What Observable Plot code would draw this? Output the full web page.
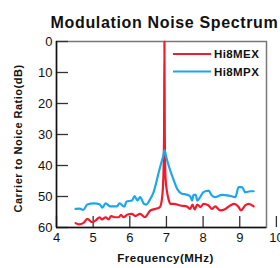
<!DOCTYPE html>
<html>
<head>
<meta charset="utf-8">
<script src="https://cdn.jsdelivr.net/npm/d3@7"></script>
<script src="https://cdn.jsdelivr.net/npm/@observablehq/plot@0.6"></script>
<style>
  html, body { margin: 0; padding: 0; background: #fff; }
  svg { font-family: "Liberation Sans", Arial, sans-serif; }
</style>
</head>
<body>
<div id="chart"></div>
<script>
const title = "Modulation Noise Spectrum";
const xLabel = "Frequency(MHz)";
const yLabel = "Carrier to Noice Ratio(dB)";
const seriesNames = ["Hi8MEX", "Hi8MPX"];
const seriesColors = ["#ee1c2e", "#1ea7e8"];
const xTicks = [4, 5, 6, 7, 8, 9, 10];
const yTicks = [0, 10, 20, 30, 40, 50, 60];
const xDomain = [4, 9.73];
const yDomain = [0, 60];

const mexFreq = [4.52, 4.61, 4.73, 4.84, 4.97, 5.06, 5.18, 5.24, 5.34, 5.42, 5.49, 5.61, 5.70, 5.76, 5.83, 5.94, 6.06, 6.15, 6.28, 6.41, 6.56, 6.70, 6.82, 6.88, 6.915, 6.935, 6.945, 6.955, 6.975, 7.01, 7.06, 7.11, 7.20, 7.38, 7.55, 7.65, 7.71, 7.77, 7.84, 7.93, 8.01, 8.15, 8.24, 8.33, 8.47, 8.61, 8.74, 8.85, 8.97, 9.03, 9.15, 9.24, 9.38];
const mexCN   = [58.6, 59.0, 58.6, 57.2, 58.3, 57.8, 56.7, 57.4, 56.7, 57.4, 56.3, 56.7, 56.7, 55.9, 56.7, 55.8, 55.6, 56.3, 55.6, 56.7, 54.5, 54.0, 53.4, 50.5, 44, 30, 0, 30, 44, 48, 51, 52.4, 52.4, 52.9, 53.2, 54.0, 52.6, 54.2, 52.6, 53.4, 52.4, 52.9, 54.0, 53.2, 54.5, 54.0, 52.9, 52.4, 53.4, 54.5, 52.9, 52.4, 53.2];

const mpxFreq = [4.52, 4.63, 4.73, 4.84, 5.02, 5.18, 5.25, 5.34, 5.47, 5.65, 5.72, 5.85, 5.91, 6.06, 6.13, 6.21, 6.28, 6.39, 6.45, 6.55, 6.65, 6.79, 6.85, 6.92, 6.945, 7.00, 7.06, 7.20, 7.29, 7.42, 7.55, 7.65, 7.70, 7.74, 7.80, 7.84, 7.92, 8.01, 8.15, 8.24, 8.33, 8.51, 8.70, 8.88, 8.97, 9.06, 9.15, 9.29, 9.38];
const mpxCN   = [54.0, 53.9, 54.3, 52.6, 52.2, 52.5, 53.6, 52.2, 53.2, 53.2, 52.2, 53.3, 51.6, 51.3, 49.9, 51.3, 50.2, 52.4, 52.6, 51.0, 48.6, 42.2, 39.5, 36.5, 35.0, 37.5, 40, 44.8, 47.5, 49.1, 49.4, 50.0, 51.3, 49.5, 49.5, 51.3, 50.2, 48.6, 48.1, 49.7, 50.2, 49.5, 49.7, 50.2, 47.0, 47.0, 48.6, 48.3, 48.3];

const data = [
  ...mexFreq.map((f, i) => ({series: seriesNames[0], f, v: mexCN[i]})),
  ...mpxFreq.map((f, i) => ({series: seriesNames[1], f, v: mpxCN[i]}))
];

const chart = Plot.plot({
  width: 280,
  height: 268,
  marginLeft: 56,
  marginRight: 14,
  marginTop: 41,
  marginBottom: 41,
  style: {fontFamily: "Liberation Sans, Arial, sans-serif", background: "#fff"},
  x: {domain: xDomain, label: null},
  y: {domain: yDomain, reverse: true, label: null},
  color: {domain: seriesNames, range: seriesColors},
  marks: [
    Plot.frame({stroke: "#777", strokeWidth: 1.5}),
    Plot.axisX({ticks: xTicks, tickFormat: d => String(d), tickSize: -11, tickPadding: 16, fontSize: 13, stroke: "#333", strokeWidth: 1.3, color: "#111", label: null}),
    Plot.axisY({ticks: yTicks, tickFormat: d => String(d), tickSize: -12, tickPadding: 16, fontSize: 13, stroke: "#333", strokeWidth: 1.3, color: "#111", label: null}),
    Plot.ruleX([xDomain[0]], {stroke: "#111", strokeWidth: 1.5}),
    Plot.ruleY([yDomain[1]], {stroke: "#111", strokeWidth: 1.5}),
    Plot.line(data, {x: "f", y: "v", z: "series", stroke: "series", strokeWidth: 2.2, curve: "monotone-x"}),
    Plot.text([title], {frameAnchor: "top", dx: 3, dy: -25, fontSize: 16, fontWeight: "bold", fill: "#111"}),
    Plot.text([xLabel], {frameAnchor: "bottom", dx: 4, dy: 34, fontSize: 11.5, fontWeight: "bold", fill: "#111"}),
    Plot.text([yLabel], {frameAnchor: "left", textAnchor: "middle", dx: -38, dy: 4, rotate: -90, fontSize: 11, fontWeight: "bold", fill: "#111"})
  ]
});
document.getElementById("chart").appendChild(chart);

// legend inside the plot area (top-right)
const svg = d3.select(chart);
const leg = svg.append("g").attr("font-family", "Liberation Sans, Arial, sans-serif").attr("text-anchor", "start");
seriesNames.forEach((name, i) => {
  const y = 54 + i * 17.5;
  leg.append("line").attr("x1", 173).attr("x2", 211).attr("y1", y).attr("y2", y)
    .attr("stroke", seriesColors[i]).attr("stroke-width", 2);
  leg.append("text").attr("x", 214).attr("y", y).attr("dy", "0.36em")
    .attr("text-anchor", "start")
    .attr("font-size", 11.5).attr("font-weight", "bold").attr("letter-spacing", "0.4px")
    .attr("fill", "#111").text(name);
});
svg.selectAll("text").filter(function() { return this.textContent === title; }).attr("letter-spacing", "0.65px");
svg.selectAll("text").filter(function() { return this.textContent === xLabel || this.textContent === yLabel; }).attr("letter-spacing", "0.5px");
</script>
</body>
</html>
